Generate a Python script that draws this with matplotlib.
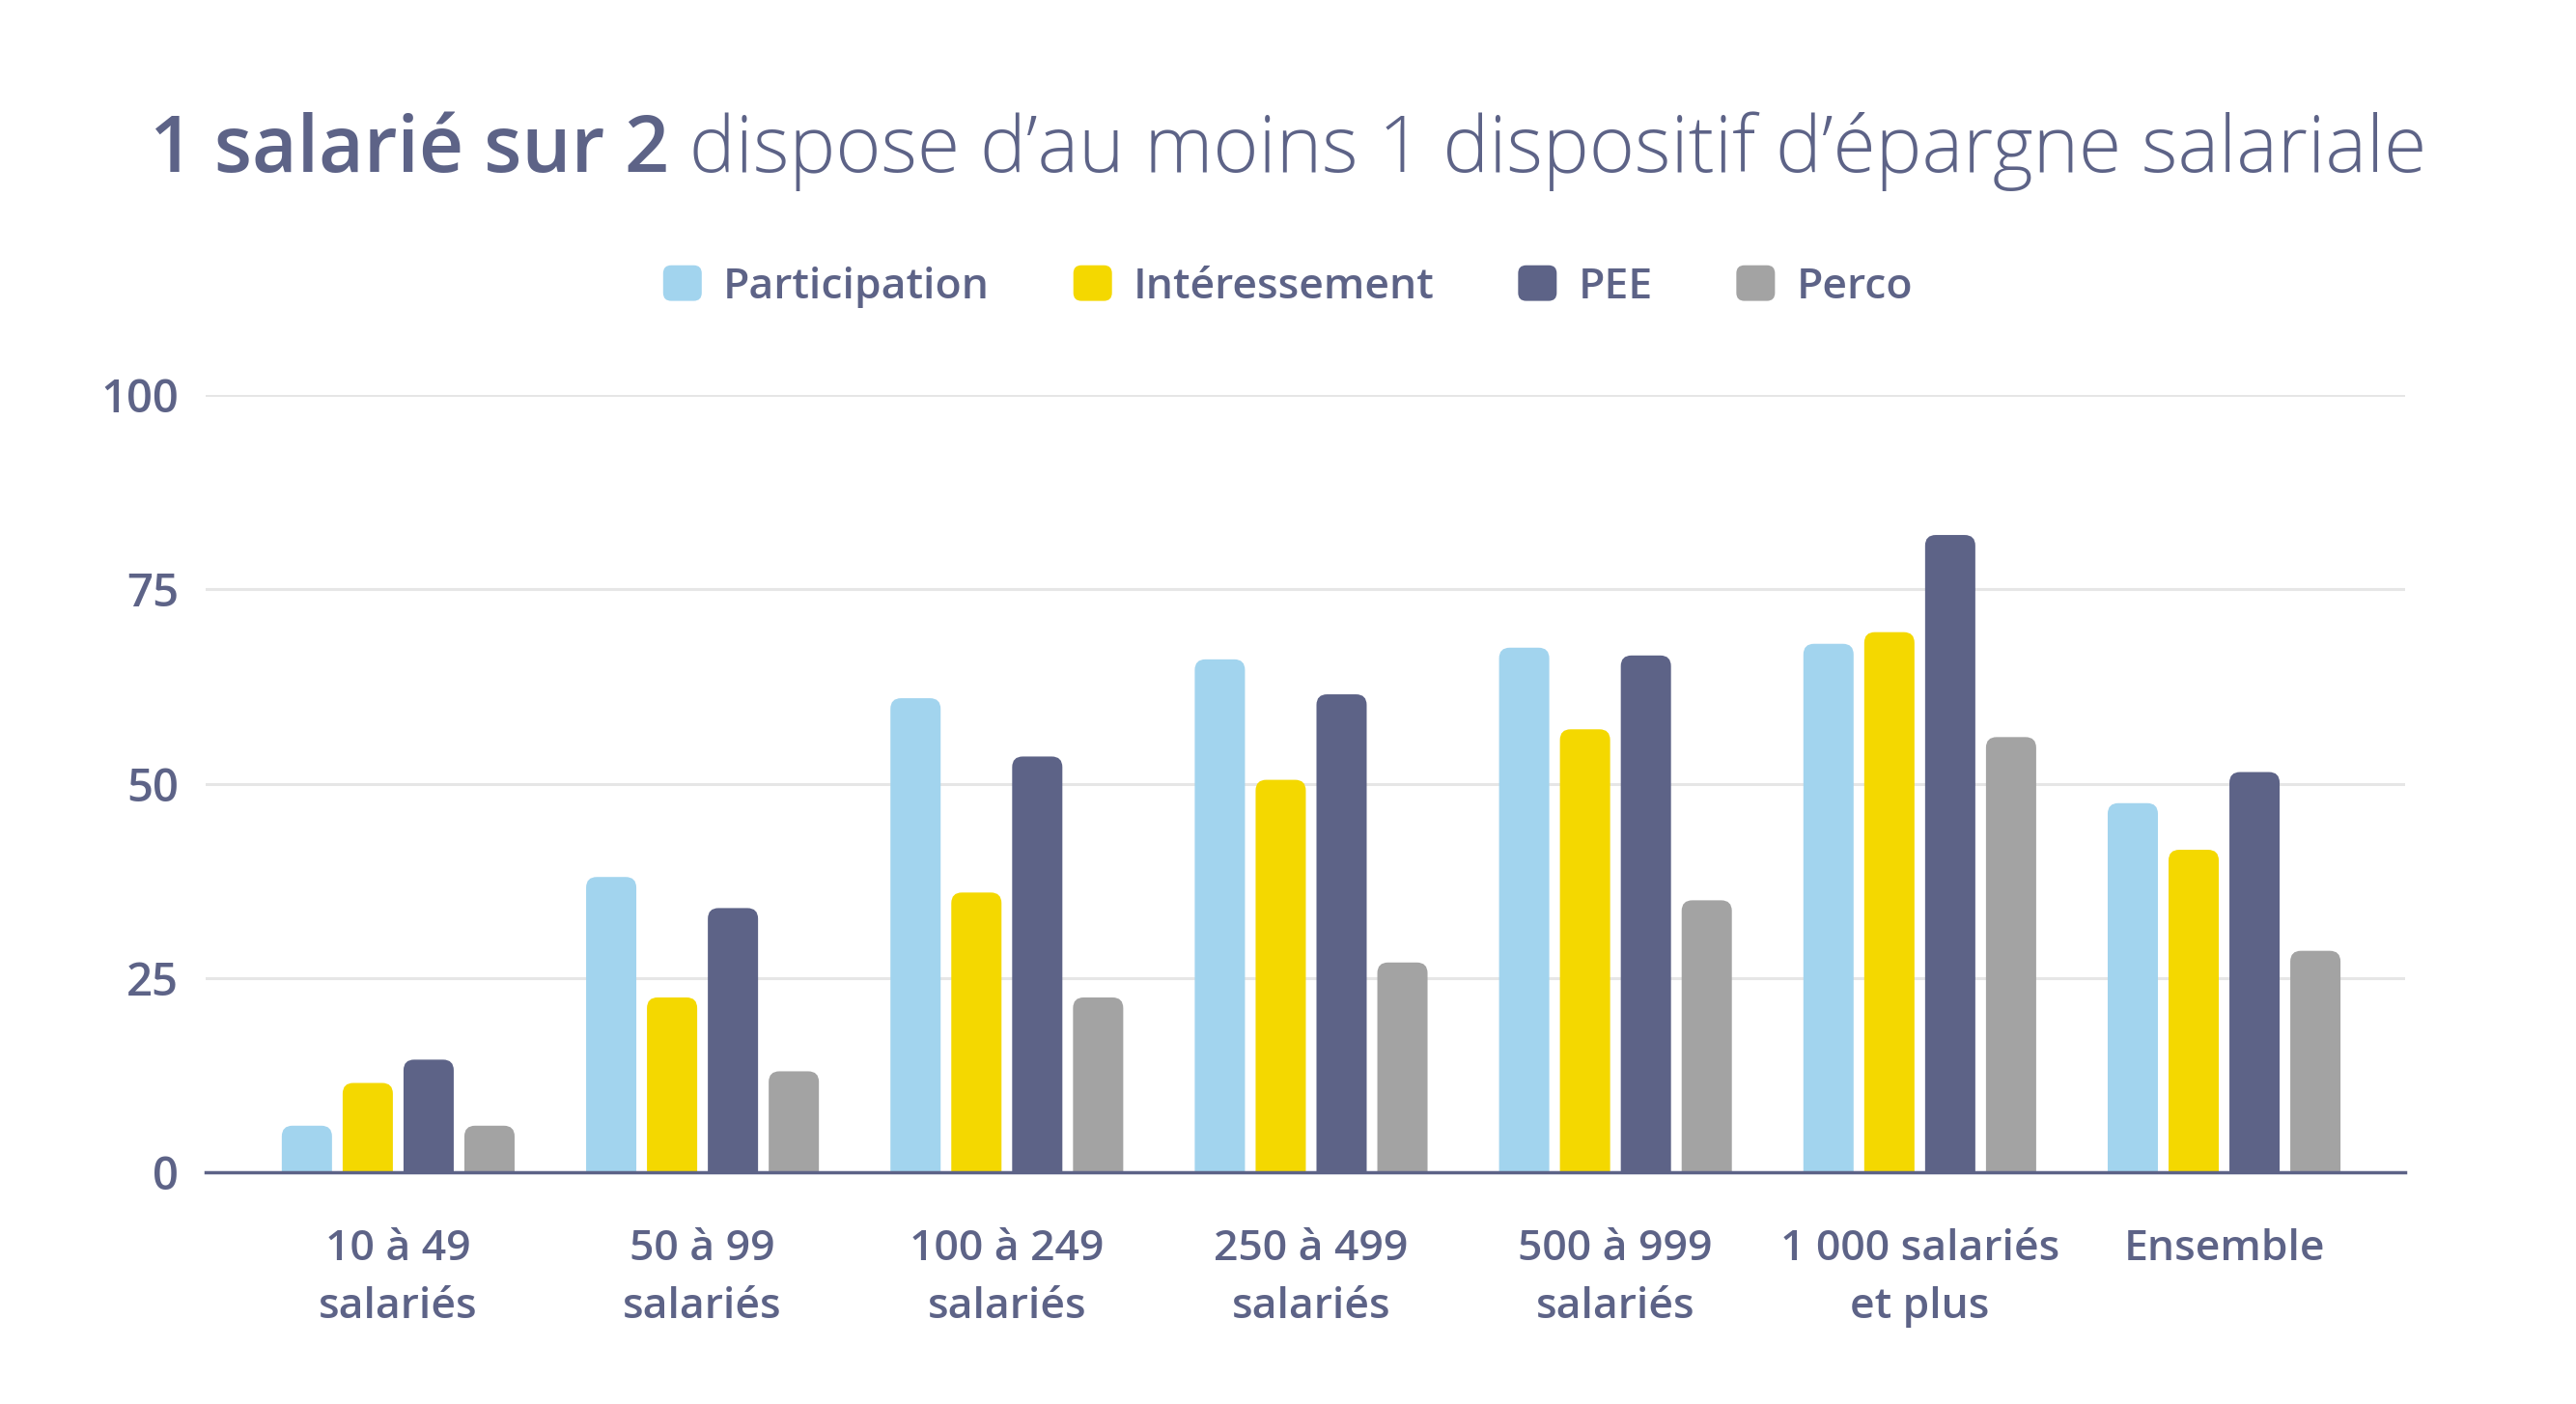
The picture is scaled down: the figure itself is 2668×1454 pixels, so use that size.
import matplotlib
matplotlib.use("Agg")
import matplotlib.pyplot as plt
import numpy as np
from matplotlib.patches import FancyBboxPatch, Patch
from matplotlib.legend_handler import HandlerPatch

# Données (en %)
categories = ["10 à 49\nsalariés", "50 à 99\nsalariés", "100 à 249\nsalariés",
              "250 à 499\nsalariés", "500 à 999\nsalariés", "1 000 salariés\net plus",
              "Ensemble"]
series_names = ["Participation", "Intéressement", "PEE", "Perco"]
participation = [6, 38, 61, 66, 67.5, 68, 47.5]
interessement = [11.5, 22.5, 36, 50.5, 57, 69.5, 41.5]
pee = [14.5, 34, 53.5, 61.5, 66.5, 82, 51.5]
perco = [6, 13, 22.5, 27, 35, 56, 28.5]
yticks = [0, 25, 50, 75, 100]

colors = ["#A2D4EE", "#F4D800", "#5D6387", "#A3A3A3"]
text_color = "#5D6387"

plt.rcParams["font.family"] = ["Open Sans", "DejaVu Sans"]

fig = plt.figure(figsize=(26.68, 14.54), dpi=100)
ax = fig.add_axes([0.0798, 0.165, 0.854, 0.5536])

x = np.arange(len(categories))
step = 0.2
width = 0.165
values = [participation, interessement, pee, perco]
ax.set_xlim(-0.633, 6.596)
ax.set_ylim(0, 100)

# Conversion pixels/unités pour arrondir le haut des barres
fig_w, fig_h = fig.get_size_inches() * fig.dpi
pos = ax.get_position()
px_x = pos.width * fig_w / (6.596 + 0.633)
px_y = pos.height * fig_h / 100
radius_px = 11
rx = radius_px / px_x
aspect = px_x / px_y

for i, (vals, color) in enumerate(zip(values, colors)):
    bars = ax.bar(x + (i - 1.5) * step, vals, width=width, color=color, zorder=3)
    for rect in bars:
        rect.set_visible(False)
        extra = rx * aspect * 1.5
        rounded = FancyBboxPatch((rect.get_x(), -extra), rect.get_width(),
                                 rect.get_height() + extra,
                                 boxstyle=f"round,pad=0,rounding_size={rx}",
                                 mutation_aspect=aspect, facecolor=color,
                                 edgecolor="none", zorder=3)
        ax.add_patch(rounded)

ax.set_yticks(yticks)
ax.set_xticks(x)
ax.set_xticklabels(categories, fontsize=32, fontweight="semibold",
                   color=text_color, linespacing=1.5)
for lab in ax.get_yticklabels():
    lab.set_fontsize(34)
    lab.set_fontweight("semibold")
    lab.set_color(text_color)
ax.tick_params(axis="both", length=0)
ax.tick_params(axis="y", pad=20)
ax.tick_params(axis="x", pad=42)
ax.grid(axis="y", color="#E6E6E6", linewidth=2.2, zorder=0)
for side in ["top", "right", "left"]:
    ax.spines[side].set_visible(False)
ax.spines["bottom"].set_color(text_color)
ax.spines["bottom"].set_linewidth(2.5)
ax.spines["bottom"].set_zorder(4)


# Légende avec des carrés arrondis
def rounded_square(legend, orig_handle, xdescent, ydescent, width, height, fontsize):
    return FancyBboxPatch((-xdescent, -ydescent), width, height,
                          boxstyle="round,pad=0,rounding_size=6")


handles = [Patch(facecolor=c, edgecolor="none", label=n) for c, n in zip(colors, series_names)]
fig.legend(handles=handles, loc="center", bbox_to_anchor=(0.5, 0.796), ncol=4,
           frameon=False, prop={"size": 32, "weight": "semibold"}, labelcolor=text_color,
           handlelength=0.9, handleheight=0.9, handletextpad=0.5, columnspacing=1.95,
           handler_map={Patch: HandlerPatch(patch_func=rounded_square)})

# Titre en deux graisses, centré
renderer = fig.canvas.get_renderer()
t1 = fig.text(0, 0.892, "1 salarié sur 2", fontsize=58, fontweight="semibold",
              color=text_color, va="center", ha="left")
t2 = fig.text(0, 0.892, " dispose d\u2019au moins 1 dispositif d\u2019épargne salariale",
              fontsize=58, fontweight="light", color=text_color, va="center", ha="left")
w1 = t1.get_window_extent(renderer).width
w2 = t2.get_window_extent(renderer).width
start = (fig_w - (w1 + w2)) / 2
t1.set_x(start / fig_w)
t2.set_x((start + w1) / fig_w)

fig.savefig("out.png", dpi=100, facecolor="white")
